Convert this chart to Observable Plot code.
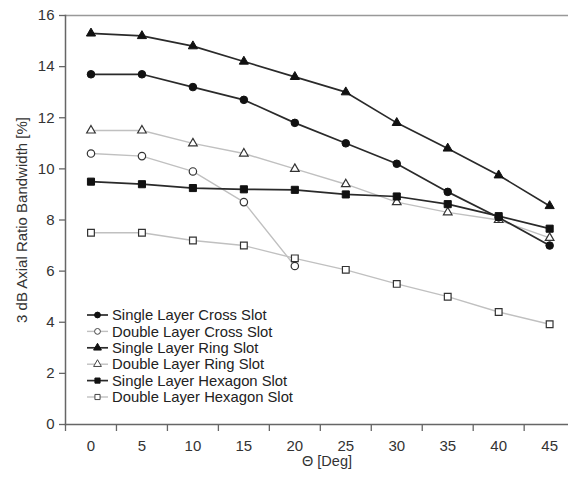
<!DOCTYPE html>
<html>
<head>
<meta charset="utf-8">
<script src="https://cdn.jsdelivr.net/npm/d3@7"></script>
<script src="https://cdn.jsdelivr.net/npm/@observablehq/plot@0.6"></script>
<style>
  html, body { margin: 0; padding: 0; background: #fff; }
  #wrap { position: relative; width: 568px; height: 479px; font-family: "Liberation Sans", Arial, sans-serif; }
  #legend { position: absolute; left: 0; top: 0; pointer-events: none; }
</style>
</head>
<body>
<div id="wrap"></div>
<script>
// ---- data ----
const theta = [0, 5, 10, 15, 20, 25, 30, 35, 40, 45];
const singleCross = [13.7, 13.7, 13.2, 12.7, 11.8, 11.0, 10.2, 9.1, 8.1, 7.0];
const doubleCrossTheta = [0, 5, 10, 15, 20];
const doubleCross = [10.6, 10.5, 9.9, 8.7, 6.2];
const singleRing = [15.3, 15.2, 14.8, 14.2, 13.6, 13.0, 11.8, 10.8, 9.75, 8.55];
const doubleRing = [11.5, 11.5, 11.0, 10.6, 10.0, 9.4, 8.7, 8.3, 8.0, 7.3];
const singleHex = [9.5, 9.4, 9.25, 9.2, 9.18, 9.0, 8.92, 8.62, 8.15, 7.66];
const doubleHex = [7.5, 7.5, 7.2, 7.0, 6.5, 6.05, 5.5, 5.0, 4.4, 3.92];
const seriesNames = [
  "Single Layer Cross Slot",
  "Double Layer Cross Slot",
  "Single Layer Ring Slot",
  "Double Layer Ring Slot",
  "Single Layer Hexagon Slot",
  "Double Layer Hexagon Slot"
];
const xTickLabels = theta;
const xTickMarks = [-2.5, 2.5, 7.5, 12.5, 17.5, 22.5, 27.5, 32.5, 37.5, 42.5];
const yTicks = [0, 2, 4, 6, 8, 10, 12, 14, 16];
const xTitle = "Θ [Deg]";
const yTitle = "3 dB Axial Ratio Bandwidth [%]";

// ---- build tables ----
const mk = (xs, ys) => xs.map((x, i) => ({x, y: ys[i]}));
const series = [
  {name: seriesNames[0], data: mk(theta, singleCross), symbol: "circle", filled: true, r: 3.8},
  {name: seriesNames[1], data: mk(doubleCrossTheta, doubleCross), symbol: "circle", filled: false, r: 3.7},
  {name: seriesNames[2], data: mk(theta, singleRing), symbol: "triangle", filled: true, r: 3.4},
  {name: seriesNames[3], data: mk(theta, doubleRing), symbol: "triangle", filled: false, r: 3.2},
  {name: seriesNames[4], data: mk(theta, singleHex), symbol: "square", filled: true, r: 4.0},
  {name: seriesNames[5], data: mk(theta, doubleHex), symbol: "square", filled: false, r: 3.8}
];
const lineColor = s => s.filled ? "#2a2a2a" : "#c0c0c0";
const lineWidth = s => s.filled ? 1.7 : 1.4;

const order = [1, 3, 5, 0, 2, 4];
const marks = [];
for (const i of order) {
  const s = series[i];
  marks.push(Plot.line(s.data, {x: "x", y: "y", stroke: lineColor(s), strokeWidth: lineWidth(s)}));
}
for (const i of order) {
  const s = series[i];
  marks.push(Plot.dot(s.data, {
    x: "x", y: "y", symbol: s.symbol, r: s.r,
    fill: s.filled ? "#111" : "#fff",
    stroke: s.filled ? "#111" : "#333",
    strokeWidth: s.filled ? 1 : 1.2
  }));
}

const chart = Plot.plot({
  width: 568,
  height: 479,
  marginLeft: 65,
  marginRight: 0,
  marginTop: 15,
  marginBottom: 55,
  style: {fontFamily: "'Liberation Sans', Arial, sans-serif", fontSize: "14.5px", color: "#333", background: "#fff"},
  x: {domain: [-2.5, 46.85]},
  y: {domain: [0, 16]},
  marks: [
    Plot.frame({anchor: "top", stroke: "#999", strokeWidth: 1.5}),
    Plot.axisY({ticks: yTicks, tickSize: 6, tickPadding: 5, stroke: "#666", strokeWidth: 1.3, fill: "#333", fontSize: 15,
      label: yTitle, labelAnchor: "center", labelArrow: "none", labelOffset: 49}),
    Plot.axisX({ticks: xTickMarks, tickSize: 7, tickFormat: () => "", stroke: "#666", strokeWidth: 1.3, label: null}),
    Plot.axisX({ticks: xTickLabels, tickSize: 0, tickPadding: 16, fill: "#333", fontSize: 15, label: null}),
    Plot.text([xTitle], {text: d => d, frameAnchor: "bottom", lineAnchor: "middle", dx: 10, dy: 37, fill: "#333", fontSize: 14.5}),
    Plot.frame({anchor: "left", stroke: "#666", strokeWidth: 1.5}),
    Plot.frame({anchor: "bottom", stroke: "#666", strokeWidth: 1.5}),
    ...marks
  ]
});
document.getElementById("wrap").appendChild(chart);

// ---- legend (overlay) ----
const legX = 87, legY = 315, legDy = 16.4;
const svg = d3.select("#wrap").append("svg")
  .attr("id", "legend").attr("width", 568).attr("height", 479);
const symbolType = {circle: d3.symbolCircle, triangle: d3.symbolTriangle, square: d3.symbolSquare};
series.forEach((s, i) => {
  const g = svg.append("g").attr("transform", `translate(0,${legY + i * legDy})`);
  g.append("line").attr("x1", legX).attr("x2", legX + 21).attr("y1", 0).attr("y2", 0)
    .attr("stroke", lineColor(s)).attr("stroke-width", lineWidth(s));
  g.append("path")
    .attr("d", d3.symbol(symbolType[s.symbol], Math.PI * 2.9 * 2.9)())
    .attr("transform", `translate(${legX + 10.5},0)`)
    .attr("fill", s.filled ? "#111" : "#fff")
    .attr("stroke", s.filled ? "#111" : "#444")
    .attr("stroke-width", 1);
  g.append("text").attr("x", legX + 25).attr("y", 0).attr("dy", "0.35em")
    .attr("font-size", 14.8).attr("fill", "#222")
    .attr("font-family", "'Liberation Sans', Arial, sans-serif")
    .text(s.name);
});
</script>
</body>
</html>
